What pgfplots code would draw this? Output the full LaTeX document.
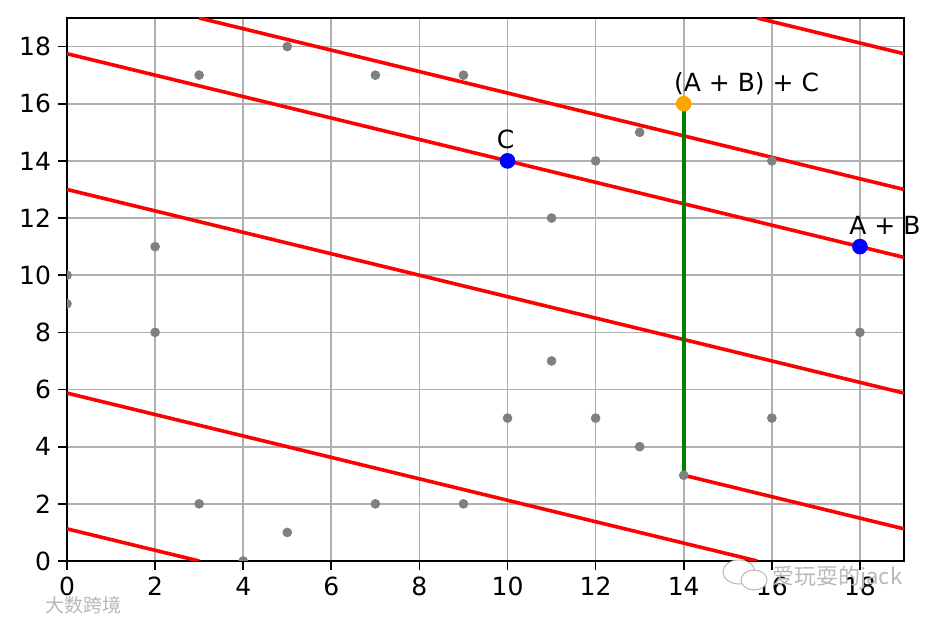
\documentclass[border=0pt]{standalone}
\usepackage{fontspec}
\setmainfont{DejaVu Sans}
\newfontfamily\cjk{Noto Sans CJK SC}
\usepackage{pgfplots}
\pgfplotsset{compat=1.18}
\usetikzlibrary{calc}

\definecolor{mplgray}{HTML}{808080}
\definecolor{gridgray}{HTML}{B0B0B0}
\definecolor{mplgreen}{HTML}{008000}
\definecolor{mplorange}{HTML}{FFA500}
\definecolor{mplblue}{HTML}{0000FF}
\definecolor{mplred}{HTML}{FF0000}
\definecolor{wmgray}{HTML}{B8B8B8}

\begin{document}
\begin{tikzpicture}
\begin{axis}[
  name=ax,
  scale only axis, width=418.5pt, height=271.5pt,
  xmin=0, xmax=19, ymin=0, ymax=19,
  xtick={0,2,...,18}, ytick={0,2,...,18},
  grid=major, grid style={gridgray, line width=0.85pt},
  axis line style={line width=0.85pt},
  tick align=outside, tick pos=left, major tick length=4.5pt,
  tick style={black, line width=0.85pt},
  tick label style={font=\fontsize{12.5}{14}\selectfont},
  /pgf/number format/assume math mode=true,
  clip mode=individual, clip marker paths=true,
]
% line through C and A+B, slope -3/8, wrapped mod 19
\addplot[mplred, line width=1.8pt] coordinates {(0,17.75) (19,10.625)};
\addplot[mplred, line width=1.8pt] coordinates {(0,13) (19,5.875)};
\addplot[mplred, line width=1.8pt] coordinates {(0,5.875) (15.6667,0)};
\addplot[mplred, line width=1.8pt] coordinates {(0,1.125) (3,0)};
\addplot[mplred, line width=1.8pt] coordinates {(3,19) (19,13)};
\addplot[mplred, line width=1.8pt] coordinates {(15.6667,19) (19,17.75)};
\addplot[mplred, line width=1.8pt] coordinates {(14,3) (19,1.125)};

% reflection
\addplot[mplgreen, line width=1.8pt] coordinates {(14,3) (14,16)};

% curve points y^2 = x^3 - 3x + 5 over F_19
\addplot[mplgray, only marks, mark=*, mark size=2.2pt, mark options={draw=mplgray, fill=mplgray}]
  coordinates {(0,9)(0,10)(2,8)(2,11)(3,2)(3,17)(4,0)(5,1)(5,18)(7,2)(7,17)
               (9,2)(9,17)(10,5)(10,14)(11,7)(11,12)(12,5)(12,14)(13,4)(13,15)
               (14,3)(14,16)(16,5)(16,14)(18,8)(18,11)};

\addplot[mplblue, only marks, mark=*, mark size=3.7pt, mark options={draw=mplblue, fill=mplblue}]
  coordinates {(10,14)(18,11)};
\addplot[mplorange, only marks, mark=*, mark size=3.7pt, mark options={draw=mplorange, fill=mplorange}]
  coordinates {(14,16)};

\node[anchor=base west, inner sep=0pt, font=\fontsize{12.5}{14}\selectfont,
      xshift=-5.5pt, yshift=6.3pt] at (axis cs:10,14) {C};
\node[anchor=base west, inner sep=0pt, font=\fontsize{12.5}{14}\selectfont,
      xshift=-5.5pt, yshift=6.3pt] at (axis cs:18,11) {A + B};
\node[anchor=base west, inner sep=0pt, font=\fontsize{12.5}{14}\selectfont,
      xshift=-5pt, yshift=6.2pt] at (axis cs:14,16) {(A + B) + C};
\end{axis}

% watermarks
\node[anchor=west, inner sep=0pt, text=wmgray, font=\cjk\fontsize{9.5}{10}\selectfont]
  at ($(ax.south west)+(-11pt,-22pt)$) {大数跨境};
\draw[wmgray, line width=0.5pt, fill=white]
  ($(ax.south west)+(336pt,-5.5pt)$) ellipse (8pt and 6pt);
\draw[wmgray, line width=0.5pt, fill=white]
  ($(ax.south west)+(343.5pt,-9.5pt)$) ellipse (6.5pt and 5pt);
\node[anchor=west, inner sep=0pt, text=wmgray, font=\cjk\fontsize{11}{11}\selectfont]
  at ($(ax.south west)+(352.5pt,-8.5pt)$) {爱玩耍的jack};

\path ($(ax.south west)+(-33.5pt,-30pt)$) rectangle ($(ax.north east)+(16.5pt,9pt)$);
\end{tikzpicture}
\end{document}
